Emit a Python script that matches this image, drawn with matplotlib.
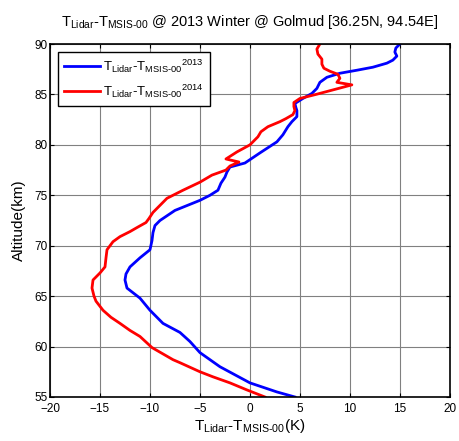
import matplotlib
matplotlib.use("Agg")
from matplotlib import pyplot as plt

plt.rcParams['font.family'] = ['Liberation Sans', 'DejaVu Sans']
plt.rcParams['mathtext.fontset'] = 'custom'
plt.rcParams['mathtext.rm'] = 'Liberation Sans'
plt.rcParams['mathtext.it'] = 'Liberation Sans'

# 2013 profile (blue)
alt_2013 = [90.0, 89.6, 89.2, 88.8, 88.4, 88.1, 87.7, 87.4, 87.1, 86.7, 86.2, 85.6,
            85.1, 84.6, 84.1, 83.7, 83.4, 82.8, 82.3, 81.8, 81.0, 80.3, 79.2, 78.2,
            77.8, 77.3, 76.8, 76.2, 75.5, 75.0, 74.5, 73.5, 72.5, 72.0, 71.3, 70.5,
            69.6, 68.8, 67.9, 67.2, 66.6, 65.8, 64.8, 63.6, 62.3, 61.4, 60.5, 59.4,
            58.0, 56.4, 55.5, 55.0]
dt_2013 = [15.0, 14.6, 14.5, 14.7, 14.3, 13.7, 12.3, 10.7, 9.0, 7.7, 7.0, 6.7,
           6.2, 5.3, 4.5, 4.6, 4.7, 4.7, 4.2, 3.8, 3.3, 2.7, 1.0, -0.5,
           -2.0, -2.3, -2.5, -2.9, -3.2, -4.0, -5.0, -7.5, -9.0, -9.5, -9.7, -9.8,
           -10.0, -11.0, -12.0, -12.4, -12.5, -12.3, -11.0, -10.0, -8.7, -7.0, -6.0, -5.0,
           -3.0, 0.0, 2.7, 4.5]

# 2014 profile (red)
alt_2014 = [90.0, 89.5, 89.0, 88.5, 88.0, 87.6, 87.3, 87.0, 86.6, 86.2, 85.95, 85.5,
            85.0, 84.6, 84.2, 83.8, 83.4, 83.0, 82.6, 82.3, 81.8, 81.3, 80.8, 80.0,
            79.3, 78.6, 78.3, 77.9, 77.5, 77.0, 76.3, 75.5, 74.7, 74.0, 73.3, 72.7,
            72.3, 71.8, 71.4, 70.9, 70.4, 69.6, 68.8, 67.9, 67.3, 66.6, 65.8, 65.0,
            64.5, 63.6, 62.9, 62.3, 61.6, 61.0, 59.9, 58.7, 58.4, 57.5, 57.0, 56.4,
            55.7, 55.0]
dt_2014 = [7.0, 6.7, 6.8, 7.2, 7.2, 7.4, 8.0, 8.8, 9.0, 8.7, 10.2, 8.5,
           6.6, 5.0, 4.4, 4.4, 4.5, 4.3, 3.6, 3.0, 1.8, 1.1, 0.8, 0.0,
           -1.3, -2.4, -1.1, -2.0, -2.4, -3.8, -5.0, -6.7, -8.3, -9.0, -9.7, -10.1,
           -10.4, -11.3, -12.0, -13.0, -13.7, -14.3, -14.4, -14.5, -15.0, -15.7, -15.8, -15.6,
           -15.4, -14.7, -13.9, -13.0, -12.0, -11.0, -9.8, -7.7, -7.0, -5.0, -3.7, -2.0,
           -0.3, 1.5]

xticks = [-20, -15, -10, -5, 0, 5, 10, 15, 20]
yticks = [55, 60, 65, 70, 75, 80, 85, 90]

dT = r'T$_{\mathregular{Lidar}}$-T$_{\mathregular{MSIS\text{-}00}}$'

fig = plt.figure(figsize=(4.59, 4.41), dpi=100)
ax = fig.add_axes([0.109, 0.0998, 0.871, 0.8004])

ax.plot(dt_2013, alt_2013, color='#0000ff', lw=2, label=dT + r'$^{\mathregular{2013}}$')
ax.plot(dt_2014, alt_2014, color='#ff0000', lw=2, label=dT + r'$^{\mathregular{2014}}$')

ax.set_xlim(-20, 20)
ax.set_ylim(55, 90)
ax.set_xticks(xticks)
ax.set_yticks(yticks)
ax.tick_params(direction='in', top=True, right=True, labelsize=8.5, length=3)
ax.tick_params(axis='x', pad=4)
ax.tick_params(axis='y', pad=2)
ax.grid(True, color='#808080', lw=0.8)
for s in ax.spines.values():
    s.set_linewidth(1.2)

ax.set_title(dT + ' @ 2013 Winter @ Golmud [36.25N, 94.54E]', fontsize=10.5, pad=13)
ax.set_xlabel(dT + '(K)', fontsize=11, labelpad=2)
ax.set_ylabel('Altitude(km)', fontsize=11, labelpad=6)

leg = ax.legend(loc='upper left', fontsize=9.5, fancybox=False, framealpha=1,
                edgecolor='black', borderaxespad=0.6, handlelength=2.7,
                handletextpad=0.3, labelspacing=0.55, borderpad=0.45)
leg.get_frame().set_linewidth(1.0)

fig.savefig('out.png', dpi=100)
